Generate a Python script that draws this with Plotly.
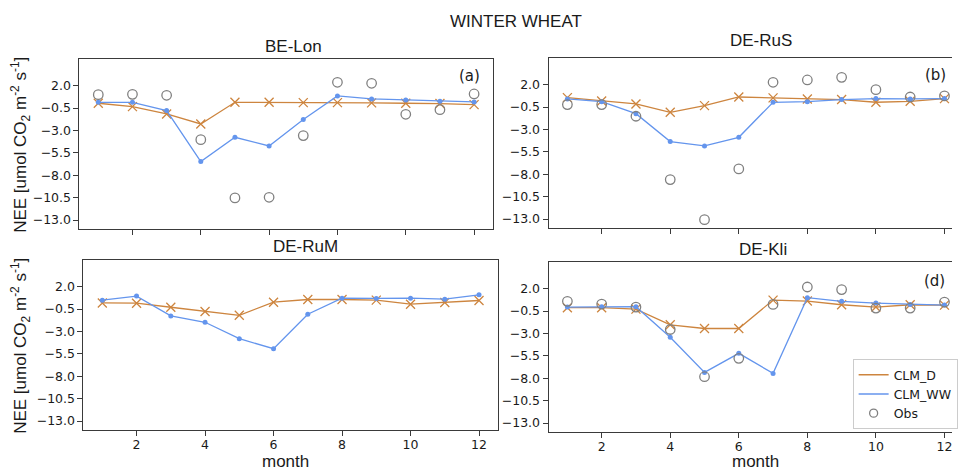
import plotly.graph_objects as go

W, H = 958, 470

months = [1, 2, 3, 4, 5, 6, 7, 8, 9, 10, 11, 12]
xtick_vals = [2, 4, 6, 8, 10, 12]
ytick_vals = [2.0, -0.5, -3.0, -5.5, -8.0, -10.5, -13.0]

sites = ["BE-Lon", "DE-RuS", "DE-RuM", "DE-Kli"]
panel_tags = ["(a)", "(b)", "", "(d)"]

belon_d = [0.03, -0.34, -1.16, -2.28, 0.14, 0.14, 0.10, 0.10, 0.07, 0.03, 0.00, -0.12]
belon_ww = [0.14, 0.14, -0.79, -6.48, -3.77, -4.73, -1.79, 0.85, 0.52, 0.40, 0.25, 0.18]
belon_obs = [0.99, 1.03, 0.92, -4.03, -10.53, -10.46, -3.58, 2.37, 2.26, -1.20, -0.68, 1.07]

derus_d = [0.55, 0.18, -0.16, -1.09, -0.34, 0.62, 0.52, 0.40, 0.33, 0.03, 0.14, 0.44]
derus_ww = [0.40, 0.10, -1.24, -4.36, -4.84, -3.88, 0.03, 0.10, 0.33, 0.44, 0.40, 0.44]
derus_obs = [-0.23, -0.23, -1.53, -8.60, -13.07, -7.41, 2.26, 2.52, 2.81, 1.44, 0.62, 0.74]

derum_d = [0.18, 0.15, -0.30, -0.78, -1.20, 0.26, 0.56, 0.56, 0.49, 0.04, 0.23, 0.45]
derum_ww = [0.49, 0.94, -1.27, -1.98, -3.81, -4.93, -1.08, 0.71, 0.68, 0.71, 0.60, 1.08]
derum_obs = []

dekli_d = [-0.13, -0.13, -0.29, -2.04, -2.45, -2.45, 0.72, 0.61, 0.20, -0.06, 0.20, 0.16]
dekli_ww = [-0.06, -0.02, -0.02, -3.42, -7.35, -5.22, -7.46, 0.99, 0.58, 0.39, 0.24, 0.16]
dekli_obs = [0.58, 0.28, -0.06, -2.56, -7.83, -5.78, 0.24, 2.18, 1.89, -0.17, -0.17, 0.50]

series_d = [belon_d, derus_d, derum_d, dekli_d]
series_ww = [belon_ww, derus_ww, derum_ww, dekli_ww]
series_obs = [belon_obs, derus_obs, derum_obs, dekli_obs]

C_D = "#cd853f"
C_WW = "#6495ed"
C_OBS = "#808080"
FRAME = "#3a3a3a"
TXT = "#1a1a1a"
ARIAL = "Liberation Sans, Arial, sans-serif"
DEJAVU = "DejaVu Sans, sans-serif"


def px(x):
    return x / W


def py(y):
    return 1 - y / H


# panel frames in pixels: (left, right, top, bottom), x-range
panels = [
    (80, 496, 59, 229, [0.45, 12.55]),
    (552, 958, 58, 228, [0.45, 12.22]),
    (84, 501, 260, 430, [0.45, 12.55]),
    (552, 958, 262, 432, [0.45, 12.22]),
]
yrange = [-14.0, 4.97]

fig = go.Figure()
layout = {}
for i, (l, r, t, b, xr) in enumerate(panels):
    n = "" if i == 0 else str(i + 1)
    xa, ya = "x" + n, "y" + n
    fig.add_trace(go.Scatter(x=months, y=series_d[i], mode="lines+markers",
                             line=dict(color=C_D, width=1.3),
                             marker=dict(symbol="x-thin", size=9, line=dict(color=C_D, width=1.3)),
                             xaxis=xa, yaxis=ya, showlegend=False))
    fig.add_trace(go.Scatter(x=months, y=series_ww[i], mode="lines+markers",
                             line=dict(color=C_WW, width=1.3),
                             marker=dict(symbol="circle", size=5, color=C_WW),
                             xaxis=xa, yaxis=ya, showlegend=False))
    if series_obs[i]:
        fig.add_trace(go.Scatter(x=months[:len(series_obs[i])], y=series_obs[i], mode="markers",
                                 marker=dict(symbol="circle-open", size=9.5,
                                             line=dict(color=C_OBS, width=1.3), color=C_OBS),
                                 xaxis=xa, yaxis=ya, showlegend=False))
    right_col = i in (1, 3)
    bottom_row = i in (2, 3)
    layout["xaxis" + n] = dict(
        domain=[px(l), px(r)], range=xr, anchor=ya,
        showline=True, linecolor=FRAME, linewidth=1, mirror=True,
        ticks="outside", ticklen=5, tickwidth=1, tickcolor=FRAME,
        tickvals=xtick_vals, showticklabels=bottom_row, ticklabelstandoff=-2,
        tickfont=dict(family=DEJAVU, size=12.5, color=TXT),
        showgrid=False, zeroline=False,
    )
    layout["yaxis" + n] = dict(
        domain=[py(b), py(t)], range=yrange, anchor=xa,
        showline=True, linecolor=FRAME, linewidth=1, mirror=not right_col,
        ticks="outside", ticklen=5, tickwidth=1, tickcolor=FRAME,
        tickvals=ytick_vals, tickformat=".1f",
        tickfont=dict(family=DEJAVU, size=12.5, color=TXT),
        showgrid=False, zeroline=False,
    )

# legend-only entries
fig.add_trace(go.Scatter(x=[None], y=[None], mode="lines", name="CLM_D",
                         line=dict(color=C_D, width=1.5)))
fig.add_trace(go.Scatter(x=[None], y=[None], mode="lines", name="CLM_WW",
                         line=dict(color=C_WW, width=1.5)))
fig.add_trace(go.Scatter(x=[None], y=[None], mode="markers", name="Obs",
                         marker=dict(symbol="circle-open", size=8,
                                     line=dict(color=C_OBS, width=1.3), color=C_OBS)))

ann = []


def add_text(text, x, y, family, size, angle=0):
    ann.append(dict(text=text, x=px(x), y=py(y), xref="paper", yref="paper",
                    showarrow=False, xanchor="center", yanchor="middle",
                    textangle=angle, font=dict(family=family, size=size, color=TXT)))


add_text("WINTER WHEAT", 519, 21, ARIAL, 17)
title_pos = [(295, 47), (766, 40.5), (307, 246.5), (768, 249.5)]
for s, (tx, ty) in zip(sites, title_pos):
    add_text(s, tx, ty, ARIAL, 17)
tag_pos = [(472, 76), (941, 75.5), (0, 0), (940, 281)]
for tg, (tx, ty) in zip(panel_tags, tag_pos):
    if tg:
        add_text(tg, tx, ty, DEJAVU, 15)
ylab = "NEE [umol CO<sub>2</sub> m<sup>-2</sup> s<sup>-1</sup>]"
add_text(ylab, 20, 145, ARIAL, 17, -90)
add_text(ylab, 20, 346, ARIAL, 17, -90)
add_text("month", 287, 461, ARIAL, 17)
add_text("month", 760, 461, ARIAL, 17)

fig.update_layout(
    width=W, height=H,
    margin=dict(l=0, r=0, t=0, b=0),
    paper_bgcolor="white", plot_bgcolor="white",
    annotations=ann,
    legend=dict(x=px(858), y=py(359), xanchor="left", yanchor="top",
                bgcolor="white", bordercolor="#cccccc", borderwidth=1,
                font=dict(family=DEJAVU, size=12.5, color=TXT),
                tracegroupgap=0, itemwidth=30),
    **layout,
)

fig.write_html("out.html", config={"displayModeBar": False},
               post_script="document.body.style.margin='0';document.body.style.padding='0';document.body.style.overflow='hidden';")
